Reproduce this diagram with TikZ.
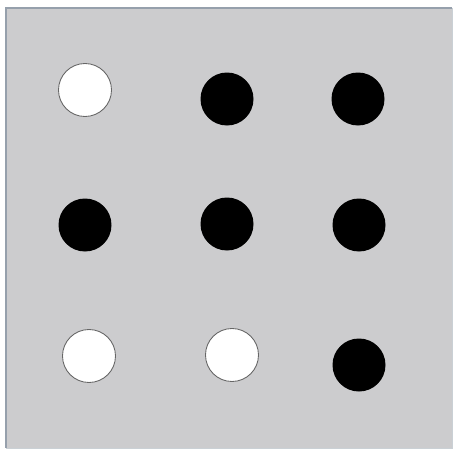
\documentclass[tikz,border=0pt]{standalone}
\definecolor{panelgray}{RGB}{204,204,206}
\definecolor{frameblue}{RGB}{150,160,172}
\begin{document}
\begin{tikzpicture}[x=0.02cm,y=-0.02cm]

        % Dimensions (adjust as needed)
        \def\width{454}
        \def\height{450}
        \def\dotRadius{26.5}
        \useasboundingbox (0,0) rectangle (\width,\height);

        % Panel
        \fill[panelgray] (6,8) rectangle (452,448);
        \draw[frameblue, line width=0.8pt] (6,448) -- (6,8) -- (452,8);
        \draw[frameblue!50, line width=0.5pt] (452,8) -- (452,448) -- (6,448);

        % White dots
        \foreach \x/\y in {85/90, 89/356, 232/355} {
            \draw[fill=white, draw=gray!80!black, line width=0.5pt] (\x,\y) circle (\dotRadius);
        }

        % Black dots
        \foreach \x/\y in {227/99, 358/99, 85/225, 227/224, 359/225, 359/365} {
            \fill[black] (\x,\y) circle (\dotRadius);
        }

    \end{tikzpicture}
\end{document}
